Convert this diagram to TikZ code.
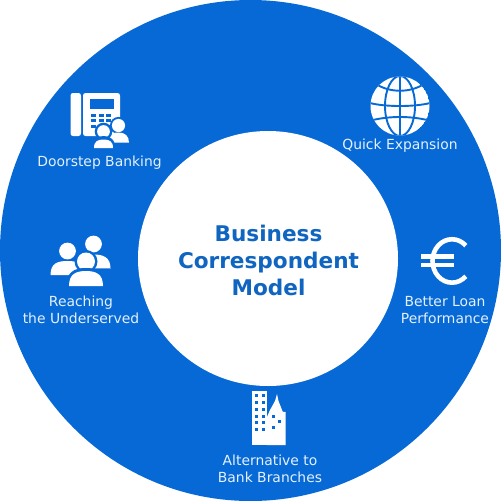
\documentclass[tikz,border=0pt]{standalone}
\usepackage{fontspec}
\setmainfont{DejaVu Sans}
\definecolor{ringblue}{HTML}{0769D6}
\definecolor{pale}{HTML}{E4F1FC}
\definecolor{titleblue}{HTML}{0F65C0}
\tikzset{
  every picture/.style={x=1pt,y=-1pt},
  lab/.style={text=pale,font=\fontsize{13.9}{17.3}\selectfont,align=center,inner sep=0pt},
  title/.style={text=titleblue,font=\fontsize{21.6}{26.8}\bfseries\selectfont,align=center,inner sep=0pt},
  ic/.style={fill=white,draw=none},
  cut/.style={draw=ringblue,line width=1.9pt},
  hole/.style={fill=ringblue,draw=none}
}
\begin{document}
\begin{tikzpicture}
\useasboundingbox (0,0) rectangle (501,501);
\fill[white] (0,0) rectangle (501,501);
\fill[ringblue] (250.5,250.5) circle (250.5);
\fill[white] (268,258.5) ellipse (130 and 127.5);
% labels
\node[title] (centre) at (268.5,260.5) {Business\\Correspondent\\Model};
\node[lab] (door) at (99.5,162.5) {Doorstep Banking};
\node[lab] (quick) at (400,145.5) {Quick Expansion};
\node[lab] (reach) at (81,309.5) {Reaching\\the Underserved};
\node[lab] (loan) at (445,310) {Better Loan\\Performance};
\node[lab] (alt) at (270,468.5) {Alternative to\\Bank Branches};
% phone
\fill[ic,rounded corners=2.5pt] (70.5,93) rectangle (81,136);
\fill[ic,rounded corners=2.5pt] (83,93) rectangle (120,136);
\fill[hole] (89.5,98.5) rectangle (113.5,108.5);
\foreach \yy in {113.5,119,124.5}{
  \foreach \xx in {91,98.5,106}{
    \fill[hole] (\xx,\yy) rectangle ++(5.2,3);
  }
}
% phone people
\fill[hole] (118.5,125.5) circle (8.6);
\fill[ic] (118.5,125.5) circle (6.6);
\fill[ic] (107,142.5) .. controls (107,134) and (112,132.5) .. (118.5,132.5) .. controls (125,132.5) and (129,136) .. (129,142.5) -- cycle;
\fill[hole] (103.5,131.5) circle (8.8);
\fill[ic] (103.5,131.5) circle (6.4);
\fill[hole] (92,150) .. controls (92,139) and (97,136) .. (103.5,136) .. controls (110,136) and (115.5,139) .. (115.5,150) -- cycle;
\fill[ic] (94,148) .. controls (94,141) and (98,139.5) .. (103.5,139.5) .. controls (109,139.5) and (113,141) .. (113,148) -- cycle;
% globe
\begin{scope}
\clip (400,106) circle (29.5);
\fill[ic] (400,106) circle (29.5);
\draw[cut] (400,76) -- (400,136);
\draw[cut] (370,103) .. controls (385,107) and (415,107) .. (430,103);
\draw[cut] (400,106) ellipse (15 and 30);
\draw[cut] (376,84) .. controls (390,93) and (410,93) .. (424,84);
\draw[cut] (373,120) .. controls (390,116) and (410,116) .. (427,120);
\end{scope}
% large people
\fill[ic] (93.5,244) circle (8.4);
\fill[ic] (76,268) .. controls (76,256) and (84,254.5) .. (93.5,254.5) .. controls (103,254.5) and (110.5,257) .. (110.5,268.5) -- cycle;
\fill[ic] (67.5,251) circle (8.4);
\fill[ic] (50.5,275) .. controls (50.5,263) and (58,261) .. (67.5,261) .. controls (77,261) and (85,263) .. (85,275) -- cycle;
\fill[hole] (86,261.5) circle (11.5);
\fill[ic] (86,261.5) circle (9);
\fill[hole] (66,288) .. controls (66,272) and (74,268) .. (86,268) .. controls (98,268) and (106,272) .. (106,288) -- cycle;
\fill[ic] (69,286) .. controls (69,274) and (76,271) .. (86,271) .. controls (96,271) and (103,274) .. (103,286) -- cycle;
% euro
\draw[white,line width=4.6pt] (465.8,276.3) arc[start angle=45,end angle=315,x radius=19.5,y radius=21.7];
\fill[ic] (421,254) rectangle (454,258.5);
\fill[ic] (421,262.5) rectangle (454,267);
% building
\fill[ic] (251.5,390.5) -- (266.5,390.5) -- (266.5,445) -- (251.5,445) -- cycle;
\fill[ic] (266.5,445) -- (285.5,445) -- (285.5,412) -- (282.7,411.7) -- (278.5,401) -- (277,394) -- (275,401) -- (270,410) -- (266.5,418) -- cycle;
\foreach \yy in {394,400.5,408,414.5,421,428}{
  \fill[hole] (255,\yy) rectangle ++(3.2,3.2);
  \fill[hole] (261.5,\yy) rectangle ++(3.2,3.2);
}
\fill[hole] (272,415) rectangle ++(3.2,3.2);
\fill[hole] (278,420) rectangle ++(3.2,3.2);
\fill[hole] (272,426) rectangle ++(3.2,3.2);
\end{tikzpicture}
\end{document}
